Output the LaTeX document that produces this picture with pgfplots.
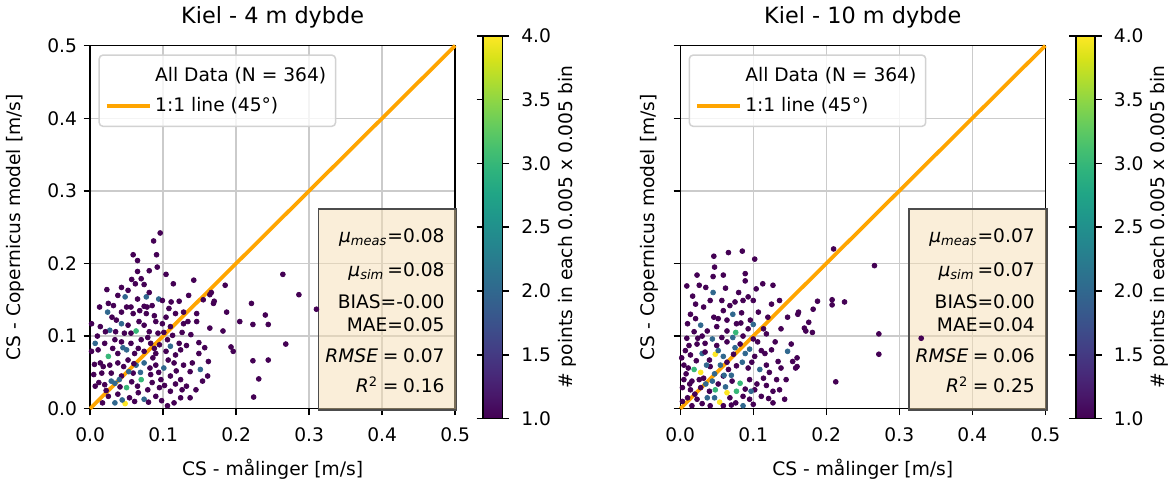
\documentclass[border=0pt]{standalone}
\usepackage{fontspec}
\setmainfont{DejaVu Sans}
\usepackage{pgfplots}
\pgfplotsset{compat=1.18}

\definecolor{mplorange}{RGB}{255,165,0}
\definecolor{wheat}{RGB}{245,222,179}
\definecolor{gridgray}{RGB}{203,203,203}
\definecolor{legframe}{RGB}{210,210,210}

\pgfplotsset{
  /pgf/number format/assume math mode=true,
  kiel/.style={
    scale only axis, width=195.8pt, height=194.7pt,
    xmin=0, xmax=0.5, ymin=0, ymax=0.5,
    xtick={0,0.1,0.2,0.3,0.4,0.5}, ytick={0,0.1,0.2,0.3,0.4,0.5},
    xticklabel style={yshift=-3pt, /pgf/number format/.cd, fixed, fixed zerofill, precision=1},
    yticklabel style={/pgf/number format/.cd, fixed, fixed zerofill, precision=1},
    tick align=outside, xtick pos=left, ytick pos=left,
    major tick length=3.5pt,
    every tick/.style={black, line width=0.8pt},
    axis line style={line width=0.8pt},
    grid=major, major grid style={gridgray, line width=0.8pt},
    xlabel={CS - målinger [m/s]},
    ylabel={CS - Copernicus model [m/s]},
    xlabel shift=2.5pt, ylabel shift=5.5pt,
    title style={font=\large, yshift=0pt},
    colormap/viridis, point meta min=1, point meta max=4,
    colorbar,
    colorbar style={
      scale only axis,
      at={(parent axis.south east)}, anchor=south west,
      yshift=-5.3pt,
      width=10.4pt, height=205.3pt,
      ytick={1,1.5,2,2.5,3,3.5,4},
      yticklabel style={xshift=3pt, /pgf/number format/.cd, fixed, fixed zerofill, precision=1},
      yticklabel pos=right, ylabel near ticks, ylabel shift=-3pt,
      ylabel={\# points in each 0.005 x 0.005 bin},
      tick align=outside, major tick length=3.5pt,
      every tick/.style={black, line width=0.8pt},
      axis line style={line width=0.8pt},
    },
    legend style={
      at={(0.023,0.976)}, anchor=north west,
      draw=legframe, line width=0.8pt, rounded corners=2pt,
      fill=white, fill opacity=0.8, text opacity=1,
      font=\normalsize, row sep=3pt, inner ysep=4.5pt, cells={anchor=west},
    },
    legend image code/.code={\draw[##1] (0pt,0pt) -- (23pt,0pt);},
    clip=false,
  },
  dots/.style={
    scatter, only marks, mark=*, mark size=1.3pt,
    point meta=explicit,
    scatter/use mapped color={draw=mapped color, fill=mapped color},
    forget plot,
  },
}

\begin{document}
\begin{tikzpicture}

% ---------------- left panel: 4 m ----------------
\begin{axis}[kiel, at={(0,0)}, anchor=south west, title={Kiel - 4 m dybde},
  colorbar style={xshift=6.5pt}]
\addlegendimage{opacity=0}
\addlegendentry{All Data (N = 364)}

\addplot[dots] table[meta=c] {
x y c
0.096 0.242 1
0.087 0.231 1
0.059 0.212 1
0.065 0.204 1
0.091 0.212 1
0.081 0.190 1
0.092 0.195 1
0.065 0.189 1
0.070 0.179 1
0.074 0.171 1
0.062 0.172 1
0.114 0.172 1
0.142 0.177 1
0.023 0.164 1
0.043 0.167 1
0.052 0.163 1
0.038 0.156 1
0.065 0.151 1
0.077 0.154 2
0.094 0.151 2
0.048 0.154 2
0.111 0.147 1
0.025 0.145 1
0.032 0.142 1
0.056 0.140 1
0.074 0.141 1
0.085 0.142 1
0.099 0.149 1
0.135 0.156 1
0.155 0.150 1
0.164 0.157 1
0.169 0.145 1
0.024 0.133 2
0.043 0.133 1
0.059 0.131 1
0.077 0.131 1
0.104 0.126 1
0.117 0.131 1
0.128 0.133 1
0.146 0.131 1
0.002 0.117 1
0.014 0.113 1
0.036 0.122 1
0.043 0.117 2
0.052 0.115 1
0.074 0.115 1
0.090 0.120 1
0.099 0.117 1
0.110 0.113 1
0.128 0.117 1
0.146 0.120 1
0.027 0.108 2
0.063 0.107 3
0.047 0.104 1
0.081 0.106 1
0.101 0.105 1
0.126 0.105 1
0.007 0.090 2
0.020 0.090 1
0.034 0.095 1
0.043 0.092 1
0.056 0.090 1
0.070 0.095 1
0.083 0.090 1
0.095 0.088 1
0.110 0.086 2
0.122 0.090 1
0.149 0.091 1
0.002 0.079 1
0.011 0.081 1
0.025 0.072 3
0.038 0.076 1
0.050 0.081 2
0.061 0.076 1
0.074 0.079 1
0.090 0.076 1
0.104 0.079 1
0.124 0.081 1
0.149 0.076 1
0.162 0.065 1
0.014 0.063 1
0.027 0.060 1
0.038 0.063 1
0.052 0.067 1
0.063 0.060 2
0.074 0.063 2
0.090 0.060 1
0.101 0.056 2
0.115 0.063 1
0.128 0.060 1
0.137 0.051 1
0.151 0.054 2
0.161 0.045 1
0.005 0.047 1
0.016 0.049 1
0.029 0.049 1
0.043 0.045 1
0.059 0.049 1
0.070 0.040 3
0.083 0.047 1
0.097 0.040 1
0.110 0.045 1
0.124 0.040 1
0.007 0.031 1
0.020 0.033 1
0.034 0.035 2
0.050 0.029 3
0.065 0.031 1
0.079 0.026 1
0.095 0.029 1
0.110 0.024 1
0.126 0.026 1
0.137 0.015 1
0.025 0.017 1
0.038 0.020 1
0.054 0.015 1
0.074 0.013 2
0.090 0.017 1
0.124 0.015 1
0.034 0.008 2
0.048 0.007 4
0.106 0.004 1
0.061 0.010 1
0.010 0.100 1
0.018 0.058 1
0.031 0.083 1
0.046 0.058 1
0.056 0.104 1
0.067 0.120 1
0.079 0.098 1
0.086 0.070 1
0.093 0.104 1
0.106 0.095 1
0.117 0.074 1
0.132 0.087 1
0.140 0.063 1
0.154 0.038 1
0.012 0.036 1
0.022 0.025 1
0.041 0.030 1
0.057 0.037 1
0.066 0.022 1
0.085 0.036 1
0.102 0.032 1
0.117 0.034 1
0.132 0.031 1
0.145 0.026 1
0.017 0.008 1
0.044 0.012 2
0.080 0.009 1
0.098 0.011 1
0.115 0.008 1
0.030 0.126 1
0.050 0.140 1
0.068 0.135 1
0.088 0.128 1
0.108 0.138 1
0.122 0.148 1
0.081 0.160 1
0.057 0.178 1
0.104 0.185 1
0.035 0.106 1
0.013 0.140 1
0.006 0.061 1
0.069 0.050 2
0.082 0.056 1
0.094 0.050 1
0.045 0.084 2
0.066 0.083 1
0.088 0.083 1
0.113 0.101 1
0.138 0.102 1
0.157 0.084 1
0.053 0.051 2
0.060 0.062 1
0.040 0.040 2
0.107 0.067 1
0.021 0.106 1
0.078 0.140 1
0.134 0.120 1
0.118 0.052 1
0.164 0.111 1
0.029 0.038 2
0.264 0.185 1
0.185 0.170 1
0.166 0.160 1
0.170 0.148 1
0.286 0.157 1
0.221 0.145 1
0.310 0.137 1
0.187 0.133 1
0.240 0.129 1
0.205 0.120 1
0.223 0.116 1
0.244 0.116 1
0.182 0.107 1
0.268 0.089 1
0.193 0.085 1
0.196 0.079 1
0.223 0.066 1
0.244 0.067 1
0.231 0.041 1
0.224 0.016 1
};

\addplot[mplorange, line width=2pt] coordinates {(0,0) (0.5,0.5)};
\addlegendentry{1:1 line (45°)}

\fill[wheat, fill opacity=0.5] (axis cs:0.313,-0.002) rectangle (axis cs:0.502,0.275);
\draw[black!70, line width=0.8pt] (axis cs:0.313,-0.002) rectangle (axis cs:0.502,0.275);
\node[anchor=east, inner sep=0pt] at (axis cs:0.486,0.236) {\textit{μ\textsubscript{meas}}=0.08};
\node[anchor=east, inner sep=0pt] at (axis cs:0.486,0.189) {\textit{μ\textsubscript{sim}}\,=0.08};
\node[anchor=east, inner sep=0pt] at (axis cs:0.486,0.148) {BIAS=-0.00};
\node[anchor=east, inner sep=0pt] at (axis cs:0.486,0.116) {MAE=0.05};
\node[anchor=east, inner sep=0pt] at (axis cs:0.486,0.073) {\textit{RMSE}\kern0.25em=\kern0.25em0.07};
\node[anchor=east, inner sep=0pt] at (axis cs:0.486,0.033) {\textit{R}\textsuperscript{2}\kern0.25em=\kern0.25em0.16};
\end{axis}

% ---------------- right panel: 10 m ----------------
\begin{axis}[kiel, at={(316.5pt,0)}, anchor=south west, title={Kiel - 10 m dybde},
  yticklabels={}, ylabel shift=-2pt, colorbar style={xshift=7.8pt}]
\addlegendimage{opacity=0}
\addlegendentry{All Data (N = 364)}

\addplot[dots] table[meta=c] {
x y c
0.046 0.210 1
0.066 0.215 1
0.085 0.217 1
0.102 0.206 1
0.047 0.195 1
0.023 0.184 1
0.045 0.182 1
0.059 0.184 1
0.089 0.186 1
0.089 0.176 1
0.009 0.169 1
0.026 0.170 1
0.035 0.167 1
0.045 0.160 2
0.104 0.165 1
0.113 0.172 1
0.127 0.170 1
0.041 0.149 1
0.057 0.149 1
0.075 0.147 1
0.086 0.149 1
0.093 0.154 1
0.100 0.149 1
0.021 0.144 1
0.032 0.140 1
0.125 0.144 1
0.136 0.149 1
0.147 0.126 1
0.161 0.130 1
0.046 0.126 1
0.064 0.122 1
0.072 0.130 2
0.084 0.132 1
0.077 0.117 1
0.096 0.122 1
0.120 0.126 1
0.010 0.117 1
0.021 0.124 1
0.028 0.115 2
0.019 0.106 1
0.037 0.107 1
0.050 0.113 1
0.064 0.107 1
0.076 0.105 3
0.093 0.110 1
0.118 0.103 1
0.172 0.107 1
0.012 0.087 1
0.023 0.089 1
0.034 0.090 1
0.050 0.087 1
0.064 0.092 1
0.082 0.089 1
0.095 0.082 2
0.111 0.080 1
0.125 0.081 1
0.152 0.089 1
0.147 0.079 2
0.014 0.074 1
0.030 0.076 2
0.048 0.075 4
0.059 0.072 2
0.073 0.075 1
0.089 0.076 2
0.102 0.072 1
0.116 0.076 1
0.134 0.065 1
0.154 0.065 1
0.158 0.056 1
0.005 0.060 1
0.019 0.054 3
0.028 0.050 4
0.041 0.058 1
0.055 0.060 2
0.066 0.054 1
0.077 0.059 1
0.093 0.056 1
0.109 0.054 2
0.118 0.060 1
0.005 0.040 1
0.016 0.038 1
0.032 0.042 1
0.044 0.038 2
0.059 0.045 1
0.071 0.038 1
0.082 0.035 3
0.095 0.040 1
0.114 0.042 1
0.003 0.029 1
0.014 0.026 1
0.028 0.029 1
0.037 0.015 2
0.048 0.026 3
0.064 0.022 4
0.077 0.024 3
0.089 0.027 1
0.102 0.026 1
0.111 0.017 1
0.127 0.024 1
0.136 0.026 1
0.010 0.015 1
0.023 0.013 1
0.041 0.004 1
0.054 0.009 4
0.068 0.015 1
0.086 0.017 1
0.086 0.004 2
0.127 0.008 1
0.143 0.013 1
0.059 0.004 1
0.100 0.006 1
0.008 0.048 1
0.013 0.034 1
0.020 0.020 1
0.026 0.040 1
0.035 0.034 2
0.040 0.024 1
0.052 0.034 1
0.062 0.030 2
0.070 0.046 2
0.076 0.008 1
0.095 0.013 1
0.105 0.034 1
0.118 0.032 1
0.003 0.010 1
0.016 0.004 1
0.030 0.007 1
0.064 0.064 1
0.085 0.064 2
0.098 0.064 1
0.106 0.092 1
0.040 0.067 1
0.022 0.066 1
0.007 0.080 1
0.044 0.096 2
0.057 0.098 1
0.072 0.098 2
0.086 0.100 1
0.100 0.096 1
0.130 0.092 1
0.138 0.110 1
0.009 0.097 1
0.030 0.100 1
0.052 0.124 1
0.059 0.135 1
0.107 0.133 1
0.014 0.130 1
0.068 0.142 1
0.080 0.160 1
0.062 0.166 1
0.017 0.155 1
0.036 0.060 2
0.047 0.048 2
0.122 0.050 1
0.132 0.040 1
0.145 0.040 1
0.138 0.056 1
0.097 0.024 2
0.121 0.014 1
0.047 0.015 2
0.070 0.005 1
0.002 0.070 1
0.011 0.056 1
0.083 0.118 1
0.100 0.116 2
0.052 0.080 2
0.075 0.084 2
0.060 0.046 2
0.034 0.078 1
0.024 0.097 1
0.114 0.110 1
0.210 0.220 1
0.266 0.197 1
0.188 0.148 1
0.208 0.150 1
0.208 0.143 1
0.225 0.147 1
0.182 0.137 1
0.162 0.133 1
0.176 0.119 1
0.170 0.111 1
0.181 0.105 1
0.272 0.103 1
0.272 0.075 1
0.160 0.070 1
0.160 0.058 1
0.213 0.037 1
0.330 0.097 1
};

\addplot[mplorange, line width=2pt] coordinates {(0,0) (0.5,0.5)};
\addlegendentry{1:1 line (45°)}

\fill[wheat, fill opacity=0.5] (axis cs:0.313,-0.002) rectangle (axis cs:0.502,0.275);
\draw[black!70, line width=0.8pt] (axis cs:0.313,-0.002) rectangle (axis cs:0.502,0.275);
\node[anchor=east, inner sep=0pt] at (axis cs:0.486,0.236) {\textit{μ\textsubscript{meas}}=0.07};
\node[anchor=east, inner sep=0pt] at (axis cs:0.486,0.189) {\textit{μ\textsubscript{sim}}\,=0.07};
\node[anchor=east, inner sep=0pt] at (axis cs:0.486,0.148) {BIAS=0.00};
\node[anchor=east, inner sep=0pt] at (axis cs:0.486,0.116) {MAE=0.04};
\node[anchor=east, inner sep=0pt] at (axis cs:0.486,0.073) {\textit{RMSE}\kern0.25em=\kern0.25em0.06};
\node[anchor=east, inner sep=0pt] at (axis cs:0.486,0.033) {\textit{R}\textsuperscript{2}\kern0.25em=\kern0.25em0.25};
\end{axis}

\end{tikzpicture}
\end{document}
